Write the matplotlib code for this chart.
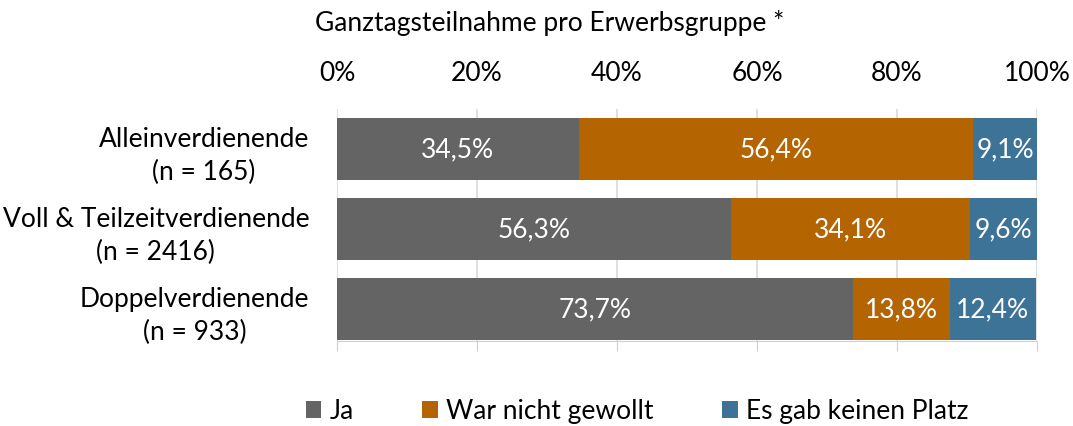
import numpy as np
from matplotlib import pyplot as plt

plt.rcParams['font.family'] = ['Lato', 'DejaVu Sans']

groups = ['Alleinverdienende\n(n = 165)', 'Voll & Teilzeitverdienende\n(n = 2416)', 'Doppelverdienende\n(n = 933)']
ja = [34.5, 56.3, 73.7]
nicht_gewollt = [56.4, 34.1, 13.8]
kein_platz = [9.1, 9.6, 12.4]
series_names = ['Ja', 'War nicht gewollt', 'Es gab keinen Platz']
colors = ['#646464', '#B46400', '#3E7398']

fs = 19

fig = plt.figure(figsize=(10.73, 4.27), dpi=100)
ax = fig.add_axes([337/1073, 1 - 342/427, 700/1073, 232/427])

y = np.arange(len(groups))
left = np.zeros(len(groups))
for vals, name, c in zip([ja, nicht_gewollt, kein_platz], series_names, colors):
    bars = ax.barh(y, vals, left=left, height=0.78, color=c, label=name, zorder=2)
    for b, v in zip(bars, vals):
        ax.text(b.get_x() + b.get_width() / 2, b.get_y() + b.get_height() / 2,
                ('%.1f%%' % v).replace('.', ','), ha='center', va='center',
                color='white', fontsize=fs, zorder=3)
    left += np.array(vals)

ax.set_xlim(0, 100)
ax.set_ylim(2.4, -0.5)
ax.set_xticks([0, 20, 40, 60, 80, 100])
ax.set_xticklabels(['0%', '20%', '40%', '60%', '80%', '100%'])
ax.set_yticks(y)
ax.set_yticklabels(groups, ha='right', multialignment='center', fontsize=fs, linespacing=1.35)
ax.tick_params(axis='y', length=0, pad=20)
ax.tick_params(axis='x', labeltop=True, labelbottom=False, top=False, bottom=True,
               length=7, color='#D0D0D0', labelsize=fs, pad=10)
ax.grid(axis='x', color='#D9D9D9', linewidth=1.2, zorder=0)
for s in ['top', 'right', 'left']:
    ax.spines[s].set_visible(False)
ax.spines['bottom'].set_color('#D0D0D0')

fig.text(550/1073, 1 - 23/427, 'Ganztagsteilnahme pro Erwerbsgruppe *', ha='center', va='center', fontsize=fs)
fig.legend(loc='center', bbox_to_anchor=(637/1073, 1 - 412/427), ncol=3, frameon=False,
           fontsize=fs, handlelength=0.6, handleheight=0.6, handletextpad=0.3, columnspacing=2.6)

fig.savefig('out.png', dpi=100)
